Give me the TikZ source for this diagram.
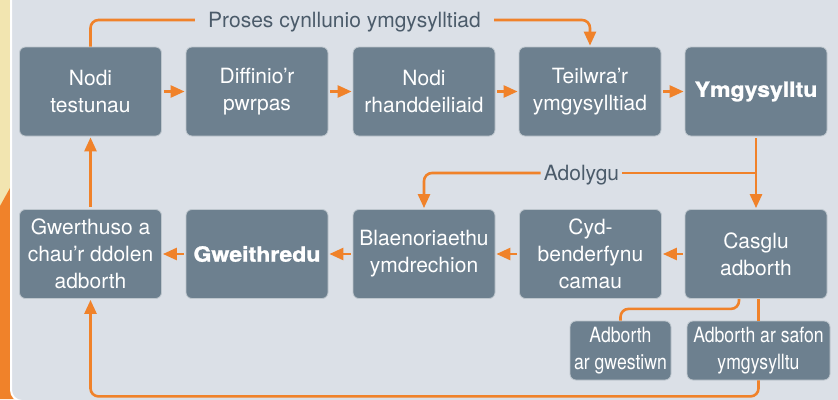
\documentclass[tikz,border=0pt]{standalone}
\usepackage{fontspec}
\setmainfont{TeX Gyre Heros}
\newfontfamily\narrowfont[FakeStretch=0.84]{TeX Gyre Heros}
\newfontfamily\heavyfont[FakeStretch=1.1,BoldFeatures={FakeBold=1.2}]{TeX Gyre Heros}
\usetikzlibrary{arrows.meta,calc}
\definecolor{panelgrey}{HTML}{DBE0E7}
\definecolor{boxslate}{HTML}{6D808F}
\definecolor{flamingo}{HTML}{F0822A}
\definecolor{strawbeige}{HTML}{F2E5B0}
\definecolor{labelslate}{HTML}{4B5B6A}
\tikzset{%
  stage/.style    = {shape=rectangle, rounded corners=6pt,%
                     draw=white!55!boxslate, line width=0.8pt,%
                     fill=boxslate, text=white, align=center,%
                     inner xsep=3pt,%
                     minimum width=142pt, minimum height=89pt,%
                     font=\fontsize{21}{27}\selectfont},%
  keystage/.style = {stage, font=\heavyfont\bfseries\fontsize{21}{27}\selectfont},%
  feedback/.style = {stage, minimum width=101pt, minimum height=59pt,%
                     font=\narrowfont\fontsize{21}{27}\selectfont},%
  tag/.style      = {text=labelslate, text height=15pt, text depth=0pt,%
                     font=\fontsize{21}{25}\selectfont}%
}

\begin{document}
\begin{tikzpicture}[x=1pt,y=-1pt,
	flow/.style = {draw=flamingo, line width=2.6pt, rounded corners=8pt},
	flowto/.style = {flow, -{Triangle[length=14pt,width=12pt]},
	shorten <=2pt, shorten >=1pt}]
	\useasboundingbox (0,0) rectangle (838,399);
	\fill[strawbeige] (0,0) rectangle (10,399);
	\fill[flamingo] (0,206) -- (10,188) -- (16,188) -- (16,399) -- (0,399) -- cycle;
	\draw[white, line width=2pt, fill=panelgrey, rounded corners=11pt]
		(11,-20) rectangle (860,401);
	\begin{scope}
		\node[stage] (nodi) at (90.5,91.5) {Nodi\\testunau};
		\node[stage] (diffinio) at (257,91.5) {Diffinio’r\\pwrpas};
		\node[stage] (rhanddeiliaid) at (424,91.5) {Nodi\\rhanddeiliaid};
		\node[stage] (teilwra) at (590,91.5) {Teilwra’r\\ymgysylltiad};
		\node[keystage] (ymgysylltu) at (756,91.5) {Ymgysylltu};
		\node[stage] (gwerthuso) at (90.5,254) {Gwerthuso a\\chau’r ddolen\\adborth};
		\node[keystage] (gweithredu) at (257,254) {Gweithredu};
		\node[stage] (blaenoriaethu) at (424,254) {Blaenoriaethu\\ymdrechion};
		\node[stage] (cydbenderfynu) at (590.5,254) {Cyd-\\benderfynu\\camau};
		\node[stage] (casglu) at (756,254) {Casglu\\adborth};
		\node[feedback] (gwestiwn) at (620.5,350.5) {Adborth\\ar gwestiwn};
		\node[feedback, minimum width=143pt] (safon) at (758.5,350.5)
			{Adborth ar safon\\ymgysylltu};
		\node[tag, inner xsep=13pt] (proses) at (344.5,20)
			{Proses cynllunio ymgysylltiad};
		\node[tag, inner xsep=3pt] (adolygu) at (581.5,173) {Adolygu};
	\end{scope}
	\begin{scope}
		\draw[flowto] (nodi) -- (diffinio);
		\draw[flowto] (diffinio) -- (rhanddeiliaid);
		\draw[flowto] (rhanddeiliaid) -- (teilwra);
		\draw[flowto] (teilwra) -- (ymgysylltu);
		\draw[flow] (nodi.north) |- (proses.west);
		\draw[flowto, shorten <=0pt] (proses.east) -| (teilwra.north);
		\draw[flowto] (ymgysylltu) -- (casglu);
		\draw[flow] (adolygu.east) -- (adolygu.east -| ymgysylltu.south);
		\draw[flowto, shorten <=0pt] (adolygu.west) -| (blaenoriaethu.north);
		\draw[flowto] (casglu) -- (cydbenderfynu);
		\draw[flowto] (cydbenderfynu) -- (blaenoriaethu);
		\draw[flowto] (blaenoriaethu) -- (gweithredu);
		\draw[flowto] (gweithredu) -- (gwerthuso);
		\draw[flowto] (gwerthuso) -- (nodi);
		\draw[flow] ([xshift=-17pt]casglu.south) -- ++(0,10) -| (gwestiwn.north);
		\draw[flow] (casglu.south -| safon.north) -- (safon.north);
		\draw[flowto, shorten <=0pt] (safon.south) -- ++(0,16) -| (gwerthuso.south);
	\end{scope}
\end{tikzpicture}
\end{document}
